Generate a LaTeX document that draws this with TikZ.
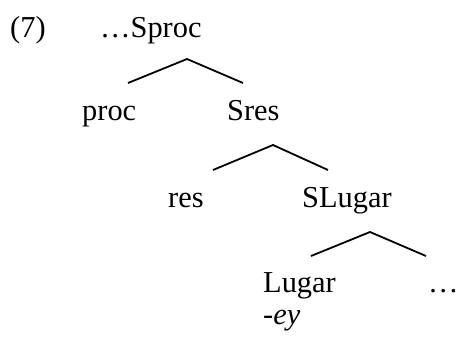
\documentclass[tikz,border=0pt]{standalone}
\usepackage{fontspec}
\setmainfont{Liberation Serif}
\begin{document}
\begin{tikzpicture}[x=1pt, y=-1pt,
          lbl/.style={anchor=base west, inner sep=0pt,
                      font=\fontsize{30.4}{36}\selectfont},
          br/.style={line width=1.8pt}
        ]
        \useasboundingbox (0,0) rectangle (459,338);

        % Example number
        \node[lbl] (num) at (10,37) {(7)};

        % Tree labels
        \node[lbl] (sproc)  at (100,37)  {…Sproc};
        \node[lbl] (proc)   at (82,120)  {proc};
        \node[lbl] (sres)   at (227,120) {Sres};
        \node[lbl] (res)    at (168,207) {res};
        \node[lbl] (slugar) at (302,207) {SLugar};
        \node[lbl] (lugar)  at (263,292) {Lugar};
        \node[lbl] (dots)   at (428,292) {…};
        \node[lbl] (ey)     at (263,324) {\textit{-ey}};

        % Branch points
        \coordinate (a1) at (187,59);
        \coordinate (l1) at (128,83);
        \coordinate (r1) at (243,83);
        \coordinate (a2) at (273,145);
        \coordinate (l2) at (213,170);
        \coordinate (r2) at (328,170);
        \coordinate (a3) at (370,232);
        \coordinate (l3) at (311,256);
        \coordinate (r3) at (426,256);

        % Branches
        \draw[br] (l1) -- (a1) -- (r1);
        \draw[br] (l2) -- (a2) -- (r2);
        \draw[br] (l3) -- (a3) -- (r3);
      \end{tikzpicture}
\end{document}
